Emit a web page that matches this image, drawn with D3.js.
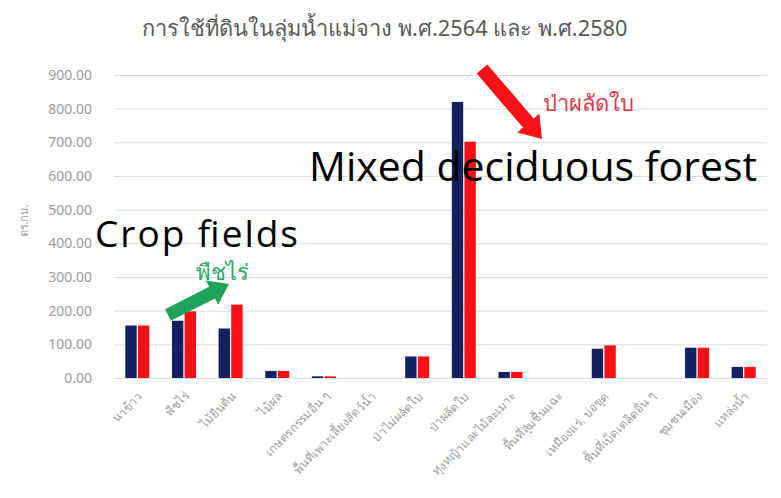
<!DOCTYPE html>
<html><head><meta charset="utf-8">
<script src="https://cdn.jsdelivr.net/npm/d3@7"></script>
<style>
html,body{margin:0;padding:0;background:#fff;}
svg{display:block;font-family:"Noto Sans","DejaVu Sans",sans-serif;}
</style></head>
<body><svg id="c" width="781" height="498"></svg>
<script>
const categories = ["นาข้าว","พืชไร่","ไม้ยืนต้น","ไม้ผล","เกษตรกรรมอื่น ๆ","พื้นที่เพาะเลี้ยงสัตว์น้ำ","ป่าไม่ผลัดใบ","ป่าผลัดใบ","ทุ่งหญ้าและไม้ละเมาะ","พื้นที่ลุ่มชื้นแฉะ","เหมืองแร่, บ่อขุด","พื้นที่เบ็ดเตล็ดอื่น ๆ","ชุมชนเมือง","แหล่งน้ำ"];
const series = ["พ.ศ.2564","พ.ศ.2580"];
const values2564 = [156,170,147,21,5,0,64,820,18,0,87,0,90,33];
const values2580 = [156,198,218,21,5,0,64,702,18,0,97,0,90,33];
const yTicks = [0,100,200,300,400,500,600,700,800,900];
const title = "การใช้ที่ดินในลุ่มน้ำแม่จาง พ.ศ.2564 และ พ.ศ.2580";
const yTitle = "ตร.กม.";

const svg = d3.select("#c");
const colors = ["#13225f","#fb1016"];
const x = d3.scaleBand().domain(categories).range([114,767]).paddingInner(0.485).paddingOuter(0.2425);
const xs = d3.scaleBand().domain(series).range([0,x.bandwidth()]).paddingInner(0.1);
const y = d3.scaleLinear().domain([0,900]).range([378,75]);

svg.append("text").attr("x",385).attr("y",36).attr("text-anchor","middle")
  .attr("font-size",21.8).attr("fill","#595959").text(title);

// gridlines
const yAxis = d3.axisLeft(y).tickValues(yTicks).tickFormat(d=>d3.format(".2f")(d)).tickSize(-(767-114)).tickPadding(22);
const gy = svg.append("g").attr("transform","translate(114,0)").call(yAxis);
gy.select(".domain").remove();
gy.selectAll(".tick line").attr("stroke","#dcdcdc").attr("stroke-width",1);
gy.selectAll(".tick text").attr("fill","#9a9a9a").attr("font-size",14).attr("font-family","Noto Sans, DejaVu Sans, sans-serif");

svg.append("text").attr("transform","translate(28,221) rotate(-90)").attr("text-anchor","middle")
  .attr("font-size",11).attr("fill","#a0a0a0").text(yTitle);

// bars
const data = categories.map((c,i)=>({c, v:[values2564[i],values2580[i]]}));
const g = svg.append("g");
data.forEach(d=>{
  series.forEach((s,j)=>{
    g.append("rect").attr("x",x(d.c)+xs(s)).attr("width",xs.bandwidth())
      .attr("y",y(d.v[j])).attr("height",y(0)-y(d.v[j])).attr("fill",colors[j]);
  });
});

// x labels
const xAxis = d3.axisBottom(x).tickSize(0).tickPadding(0);
const gx = svg.append("g").attr("transform","translate(0,378)").call(xAxis);
gx.select(".domain").attr("stroke","#dcdcdc");
gx.selectAll(".tick text").attr("fill","#a0a0a0").attr("font-size",12)
  .attr("text-anchor","end").attr("dy",0).attr("y",0)
  .attr("transform","translate(6,19) rotate(-45)");

// annotations
function arrow(x1,y1,x2,y2,w,hw,hl,color){
  const dx=x2-x1, dy=y2-y1, L=Math.hypot(dx,dy), ux=dx/L, uy=dy/L, px=-uy, py=ux;
  const bx=x2-ux*hl, by=y2-uy*hl;
  const pts=[[x1+px*w/2,y1+py*w/2],[bx+px*w/2,by+py*w/2],[bx+px*hw/2,by+py*hw/2],[x2,y2],
    [bx-px*hw/2,by-py*hw/2],[bx-px*w/2,by-py*w/2],[x1-px*w/2,y1-py*w/2]];
  svg.append("path").attr("d","M"+pts.map(p=>p.join(",")).join("L")+"Z").attr("fill",color);
}
arrow(168,315,229,284,13,27,19,"#1fa35a");
arrow(482,69,542,139,14,29,21,"#fb1016");

svg.append("text").attr("x",196).attr("y",280).attr("font-size",22).attr("fill","#2aa86a").text("พืชไร่");
svg.append("text").attr("x",543).attr("y",111).attr("font-size",22).attr("fill","#e03a48").text("ป่าผลัดใบ");
svg.append("text").attr("x",95).attr("y",247).attr("font-size",37).attr("fill","#000").attr("font-family","Open Sans, sans-serif")
  .attr("textLength",203).attr("lengthAdjust","spacing").text("Crop fields");
svg.append("text").attr("x",309).attr("y",181).attr("font-size",41).attr("fill","#000").attr("font-family","Open Sans, sans-serif").text("Mixed deciduous forest");
</script></body></html>
